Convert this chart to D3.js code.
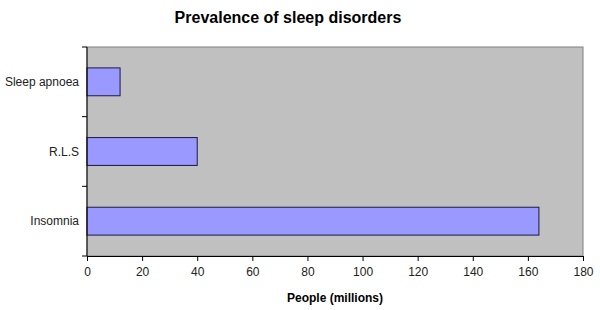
<html>
<head>
<script src="https://d3js.org/d3.v7.min.js"></script>
<style>
body { margin: 0; background: #fff; font-family: Arial, 'Liberation Sans', sans-serif; }
</style>
</head>
<body>
<svg id="chart" width="600" height="310"></svg>
<script>
// data
var categories = ["Sleep apnoea", "R.L.S", "Insomnia"];
var values = [12, 40, 164];
var xTicks = [0, 20, 40, 60, 80, 100, 120, 140, 160, 180];

// plot box (top is reserved by window, so pL/pR/pT/pB)
var pL = 87, pR = 583, pT = 47, pB = 256;

var svg = d3.select("#chart");

var x = d3.scaleLinear().domain([0, 180]).range([pL, pR]);
var y = d3.scaleBand().domain(categories).range([pT, pB]).paddingInner(0.6).paddingOuter(0.3);
var yb = d3.scaleBand().domain(categories).range([pT, pB]);

// plot area
svg.append("rect")
  .attr("x", pL).attr("y", pT)
  .attr("width", pR - pL).attr("height", pB - pT)
  .attr("fill", "#c0c0c0")
  .attr("stroke", "#808080").attr("stroke-width", 1);

// bars
svg.selectAll("rect.bar").data(values).enter().append("rect")
  .attr("class", "bar")
  .attr("x", x(0))
  .attr("y", function(d, i){ return y(categories[i]); })
  .attr("width", function(d){ return x(d) - x(0); })
  .attr("height", y.bandwidth())
  .attr("fill", "#9999ff")
  .attr("stroke", "#1a1a40").attr("stroke-width", 1);

// x axis
var xAxis = svg.append("g").attr("transform", "translate(0," + pB + ")")
  .call(d3.axisBottom(x).tickValues(xTicks).tickSize(5).tickPadding(6).tickSizeOuter(0));
xAxis.select(".domain").attr("stroke", "#000");
xAxis.selectAll("text").attr("font-size", 12).attr("fill", "#222").attr("font-family", "Arial, 'Liberation Sans', sans-serif");

// y axis: ticks on category boundaries
svg.append("line").attr("x1", pL).attr("x2", pL).attr("y1", pT).attr("y2", pB).attr("stroke", "#000");
var bounds = [pT].concat(categories.map(function(c){ return yb(c) + yb.bandwidth(); }));
svg.selectAll("line.ytick").data(bounds).enter().append("line")
  .attr("class", "ytick")
  .attr("x1", pL - 5).attr("x2", pL)
  .attr("y1", function(d){ return d; }).attr("y2", function(d){ return d; })
  .attr("stroke", "#000");

svg.selectAll("text.ylab").data(categories).enter().append("text")
  .attr("class", "ylab")
  .attr("x", pL - 8)
  .attr("y", function(d){ return y(d) + y.bandwidth() / 2; })
  .attr("dy", "0.35em")
  .attr("text-anchor", "end")
  .attr("font-size", 12).attr("fill", "#222")
  .text(function(d){ return d; });

// titles
svg.append("text").attr("x", 288).attr("y", 23)
  .attr("text-anchor", "middle").attr("font-size", 16).attr("font-weight", "bold")
  .text("Prevalence of sleep disorders");

svg.append("text").attr("x", (pL + pR) / 2).attr("y", 302)
  .attr("text-anchor", "middle").attr("font-size", 12).attr("font-weight", "bold")
  .text("People (millions)");
</script>
</body>
</html>
